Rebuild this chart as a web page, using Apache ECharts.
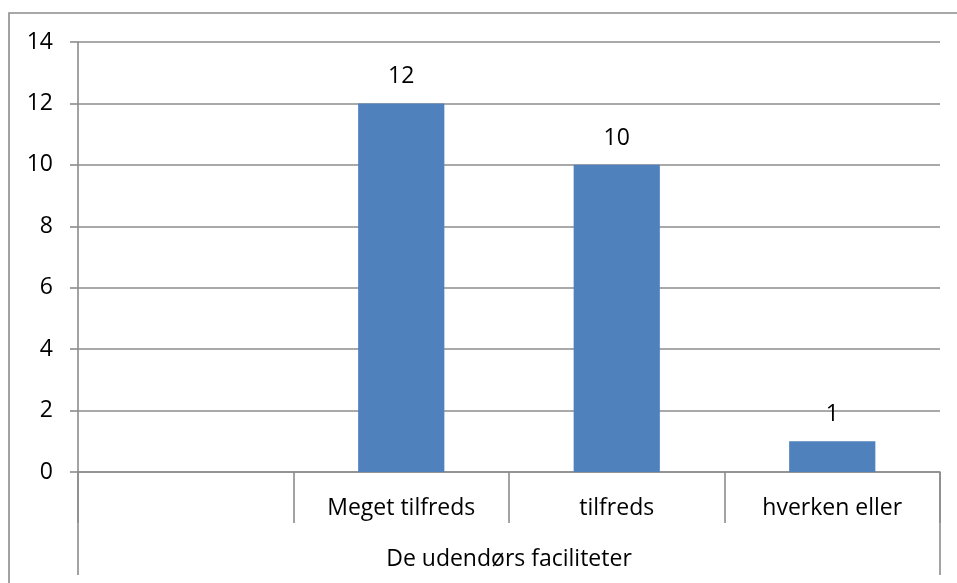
<!DOCTYPE html>
<html>
<head>
<meta charset="utf-8">
<script src="https://cdn.jsdelivr.net/npm/echarts@6/dist/echarts.min.js"></script>
<style>
html,body{margin:0;padding:0;background:#fff;}
#chart{width:957px;height:583px;}
</style>
</head>
<body>
<div id="chart"></div>
<script>
var categories = ['', 'Meget tilfreds', 'tilfreds', 'hverken eller'];
var values = ['-', 12, 10, 1];
var groupLabels = ['De udendørs faciliteter'];
var yMin = 0, yMax = 14, yStep = 2;

var FONT = 'Open Sans';
var FS = 23;
var LINE = '#8c8c8c';
var LW = 1.6;

var chart = echarts.init(document.getElementById('chart'), null, {renderer: 'canvas'});
chart.setOption({
  animation: false,
  backgroundColor: '#fff',
  textStyle: {fontFamily: FONT},
  grid: {left: 78, right: 17, top: 42, bottom: 111, containLabel: false},
  graphic: [{
    type: 'rect', silent: true,
    shape: {x: 9, y: 13, width: 1000, height: 1000},
    style: {fill: 'none', stroke: LINE, lineWidth: LW}
  }],
  xAxis: [{
    type: 'category', data: categories, position: 'bottom', boundaryGap: true,
    axisLine: {show: true, lineStyle: {color: LINE, width: LW}},
    axisTick: {show: true, interval: 0, length: 51, lineStyle: {color: LINE, width: LW}},
    axisLabel: {interval: 0, margin: 25, fontSize: FS, color: '#000', fontFamily: FONT},
    splitLine: {show: false}
  }, {
    type: 'category', data: groupLabels, position: 'bottom', boundaryGap: true,
    axisLine: {show: false},
    axisTick: {show: true, interval: 0, length: 103, lineStyle: {color: LINE, width: LW}},
    axisLabel: {interval: 0, margin: 76, fontSize: FS, color: '#000', fontFamily: FONT},
    splitLine: {show: false}
  }],
  yAxis: {
    type: 'value', min: yMin, max: yMax, interval: yStep,
    axisLine: {show: true, lineStyle: {color: LINE, width: LW}},
    axisTick: {show: true, length: 8, lineStyle: {color: LINE, width: LW}},
    axisLabel: {margin: 25, fontSize: FS, color: '#000', fontFamily: FONT},
    splitLine: {show: true, lineStyle: {color: LINE, width: LW}}
  },
  series: [{
    type: 'bar', xAxisIndex: 0, data: values, barWidth: '40%',
    itemStyle: {color: '#4F81BD'},
    label: {show: true, position: 'top', distance: 15, fontSize: FS, color: '#000', fontFamily: FONT}
  }]
});
</script>
</body>
</html>
